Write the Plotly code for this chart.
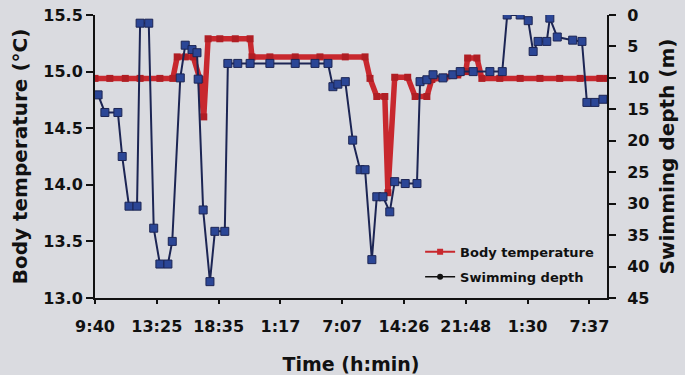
import plotly.graph_objects as go

# x positions in sample units (10 units between consecutive time ticks)
tick_pos = [0, 10, 20, 30, 40, 50, 60, 70, 80]
tick_labels = ["9:40", "13:25", "18:35", "1:17", "7:07", "14:26", "21:48", "1:30", "7:37"]

temp_x = [0, 2.4, 4.9, 7.3, 10.5, 12.6, 13.3, 14.6, 15.9, 17.0, 17.6, 18.3, 20.2, 22.7, 25.1,
          25.4, 28.3, 32.4, 36.4, 40.5, 43.7, 44.5, 45.6, 46.9, 47.4, 48.5, 50.6, 51.8, 53.7,
          54.5, 56.6, 58.7, 60.0, 60.3, 61.8, 62.6, 65.5, 68.8, 72.0, 75.2, 78.5, 81.7, 82.8]
temp_y = [14.94, 14.94, 14.94, 14.94, 14.94, 14.94, 15.13, 15.13, 15.13, 14.93, 14.60, 15.29,
          15.29, 15.29, 15.29, 15.13, 15.13, 15.13, 15.13, 15.13, 15.13, 14.94, 14.78, 14.78,
          13.93, 14.95, 14.95, 14.78, 14.78, 14.93, 14.95, 14.97, 15.00, 15.12, 15.12, 14.94,
          14.94, 14.94, 14.94, 14.94, 14.94, 14.94, 14.94]

depth_x = [0.5, 1.6, 3.7, 4.4, 5.5, 6.8, 7.3, 8.7, 9.5, 10.5, 11.8, 12.5, 13.8, 14.6, 15.7,
           16.5, 16.7, 17.5, 18.6, 19.4, 21.0, 21.5, 23.1, 25.1, 28.3, 32.4, 35.6, 37.7, 38.5,
           39.3, 40.5, 41.7, 42.9, 43.7, 44.8, 45.6, 46.6, 47.7, 48.5, 50.2, 52.1, 52.6, 53.7,
           54.7, 56.3, 57.9, 59.1, 61.2, 63.9, 65.9, 66.7, 68.8, 70.1, 70.9, 71.7, 73.1, 73.6,
           74.8, 77.3, 78.8, 79.6, 80.9, 82.2]
depth_y = [12.7, 15.5, 15.5, 22.5, 30.4, 30.4, 1.3, 1.3, 33.9, 39.6, 39.6, 36.0, 10.0, 4.8, 5.5,
           6.0, 10.2, 31.0, 42.4, 34.4, 34.4, 7.7, 7.7, 7.7, 7.7, 7.7, 7.7, 7.7, 11.4,
           11.0, 10.6, 19.9, 24.6, 24.6, 38.9, 28.9, 28.9, 31.3, 26.5, 26.8, 26.8, 10.6, 10.3,
           9.5, 10.0, 9.5, 9.0, 9.0, 9.0, 9.0, 0.0, 0.0, 0.9, 5.8, 4.2, 4.2, 0.5,
           3.5, 4.0, 4.2, 13.9, 13.9, 13.4]

FONT = "DejaVu Sans"
BG = "#dadbe0"
RED = "#c8282e"
NAVY = "#1c2554"
BLUE = "#2b4696"

fig = go.Figure()

fig.add_trace(go.Scatter(
    x=temp_x, y=temp_y, mode="lines+markers", showlegend=False,
    line=dict(color=RED, width=5.5),
    marker=dict(symbol="square", size=7, color="#b01e24"),
))
fig.add_trace(go.Scatter(
    x=depth_x, y=depth_y, yaxis="y2", mode="lines+markers", showlegend=False,
    line=dict(color=NAVY, width=2),
    marker=dict(symbol="square", size=8, color=BLUE, line=dict(color=NAVY, width=1)),
))
# legend entries (each in its own legend box)
fig.add_trace(go.Scatter(
    x=[None], y=[None], mode="lines+markers", name="Body temperature", legend="legend",
    line=dict(color=RED, width=2), marker=dict(symbol="square", size=6, color=RED),
))
fig.add_trace(go.Scatter(
    x=[None], y=[None], mode="lines+markers", name="Swimming depth", legend="legend2",
    line=dict(color="#111111", width=1.5), marker=dict(symbol="circle", size=6, color="#111111"),
))

legend_common = dict(
    xanchor="left", yanchor="middle", bgcolor="rgba(0,0,0,0)",
    font=dict(family=FONT, size=13, weight="bold"),
)

fig.update_layout(
    width=685, height=375,
    margin=dict(l=95, r=78, t=15, b=77),
    paper_bgcolor=BG, plot_bgcolor=BG,
    font=dict(family=FONT, color="#111111"),
    xaxis=dict(
        range=[0, 82.85], tickmode="array", tickvals=tick_pos, ticktext=tick_labels,
        showgrid=False, zeroline=False, showline=True, linecolor="#111111", linewidth=2,
        ticks="outside", ticklen=4, tickwidth=1.5, tickcolor="#111111",
        ticklabelstandoff=9, automargin=False,
        tickfont=dict(family=FONT, size=16, weight="bold"),
        title=dict(text="Time (h:min)", font=dict(family=FONT, size=19, weight="bold"), standoff=24),
    ),
    yaxis=dict(
        range=[13.0, 15.5], tickvals=[13.0, 13.5, 14.0, 14.5, 15.0, 15.5],
        ticktext=["13.0", "13.5", "14.0", "14.5", "15.0", "15.5"],
        showgrid=False, zeroline=False, showline=True, linecolor="#111111", linewidth=2,
        ticks="outside", ticklen=7, tickwidth=2, tickcolor="#111111", automargin=False,
        tickfont=dict(family=FONT, size=16, weight="bold"),
        title=dict(text="Body temperature (°C)", font=dict(family=FONT, size=20, weight="bold"), standoff=10),
    ),
    yaxis2=dict(
        range=[45, 0], overlaying="y", side="right",
        tickvals=[0, 5, 10, 15, 20, 25, 30, 35, 40, 45],
        showgrid=False, zeroline=False, showline=True, linecolor="#111111", linewidth=2,
        ticks="outside", ticklen=7, tickwidth=2, tickcolor="#111111",
        ticklabelstandoff=8, automargin=False,
        tickfont=dict(family=FONT, size=16, weight="bold"),
        title=dict(text="Swimming depth (m)", font=dict(family=FONT, size=20, weight="bold"), standoff=12),
    ),
    legend=dict(x=0.635, y=0.163, **legend_common),
    legend2=dict(x=0.635, y=0.075, **legend_common),
)

fig.write_html("out.html")
